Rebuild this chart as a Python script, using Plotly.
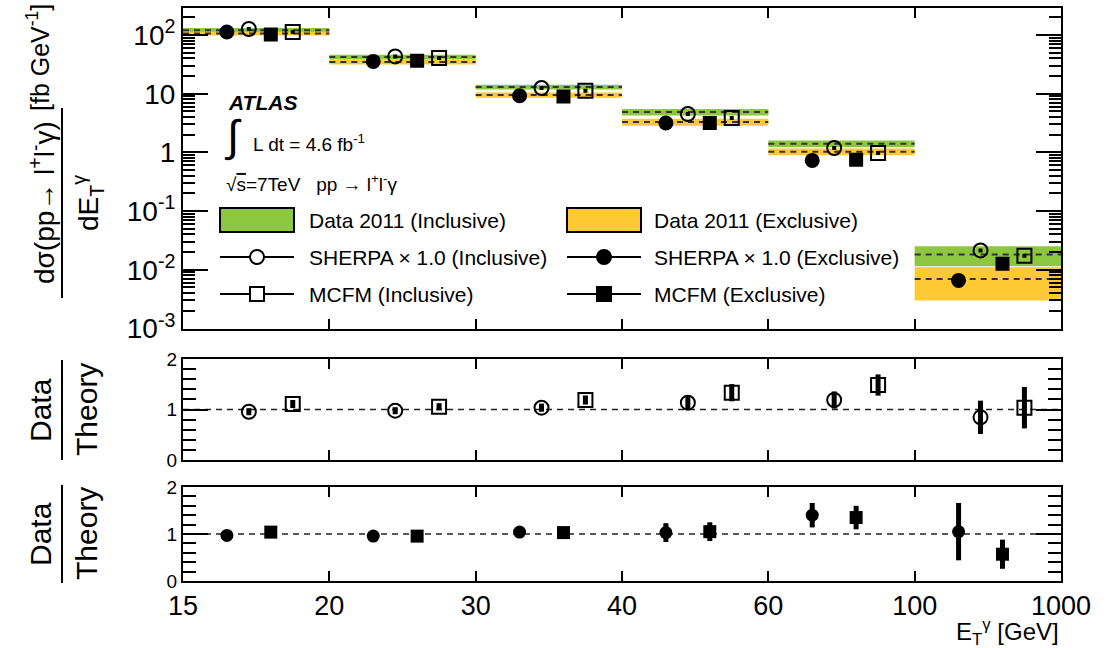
import plotly.graph_objects as go

# ---------------- data ----------------
edge_labels = ["15", "20", "30", "40", "60", "100", "1000"]
bin_index = [0, 1, 2, 3, 4, 5]

data_inc = [120, 42.2, 13.0, 4.87, 1.41, 0.0183]
data_inc_err = [11.5, 4.0, 1.2, 0.6, 0.19, 0.0068]
data_exc = [106, 34.7, 9.5, 3.30, 1.03, 0.0070]
data_exc_err = [8, 3.3, 1.0, 0.45, 0.14, 0.0040]

sherpa_inc = [126.5, 43.2, 12.5, 4.51, 1.19, 0.0214]
sherpa_exc = [112.5, 35.5, 9.25, 3.17, 0.73, 0.0066]
mcfm_inc = [112.5, 40.5, 11.2, 3.85, 0.977, 0.0174]
mcfm_exc = [102.4, 36.5, 9.0, 3.17, 0.75, 0.0127]

ratio_inc_sherpa = [0.956, 0.976, 1.036, 1.135, 1.188, 0.845]
ratio_inc_sherpa_err = [0.07, 0.07, 0.08, 0.145, 0.17, 0.33]
ratio_inc_mcfm = [1.109, 1.055, 1.188, 1.333, 1.485, 1.036]
ratio_inc_mcfm_err = [0.08, 0.07, 0.09, 0.17, 0.21, 0.41]
ratio_exc_sherpa = [0.969, 0.955, 1.04, 1.03, 1.40, 1.05]
ratio_exc_sherpa_err = [0.06, 0.06, 0.07, 0.2, 0.26, 0.61]
ratio_exc_mcfm = [1.04, 0.955, 1.03, 1.05, 1.35, 0.57]
ratio_exc_mcfm_err = [0.06, 0.06, 0.07, 0.2, 0.25, 0.31]

# ---------------- style ----------------
GREEN = "#8DC63F"
YELLOW = "#FFC933"
FONT = "Liberation Sans, Arial, Helvetica, sans-serif"
OFF_SC, OFF_OC, OFF_FS, OFF_OS = 0.30, 0.45, 0.60, 0.75

# pixel geometry of the plotting region
L, R, T, B = 183, 1061, 8, 581
W, H = R - L, B - T


def px(x):
    return (x - L) / W


def py(y):
    return (B - y) / H


def pos(off):
    return [i + off for i in bin_index]


def band(vals, errs):
    xs, ys = [], []
    for i, v, e in zip(bin_index, vals, errs):
        xs += [i, i + 1, i + 1, i, i, None]
        ys += [v - e, v - e, v + e, v + e, v - e, None]
    return xs, ys


def steps(vals):
    xs, ys = [], []
    for i, v in zip(bin_index, vals):
        xs += [i, i + 1, None]
        ys += [v, v, None]
    return xs, ys


fig = go.Figure()

# bands
gx, gy = band(data_inc, data_inc_err)
fig.add_trace(go.Scatter(x=gx, y=gy, fill="toself", fillcolor=GREEN, mode="none",
                         xaxis="x", yaxis="y", hoverinfo="skip"))
yx, yy = band(data_exc, data_exc_err)
fig.add_trace(go.Scatter(x=yx, y=yy, fill="toself", fillcolor=YELLOW, mode="none",
                         xaxis="x", yaxis="y", hoverinfo="skip"))
# dashed central values
for vals in (data_inc, data_exc):
    sx, sy = steps(vals)
    fig.add_trace(go.Scatter(x=sx, y=sy, mode="lines", xaxis="x", yaxis="y",
                             line=dict(color="#333333", width=2, dash="6px,5px"),
                             hoverinfo="skip"))

# theory markers (top)
fig.add_trace(go.Scatter(x=pos(OFF_SC), y=sherpa_exc, mode="markers", xaxis="x", yaxis="y",
                         marker=dict(symbol="circle", size=15, color="black")))
fig.add_trace(go.Scatter(x=pos(OFF_OC), y=sherpa_inc, mode="markers", xaxis="x", yaxis="y",
                         marker=dict(symbol="circle-open", size=14, color="black",
                                     line=dict(width=2))))
fig.add_trace(go.Scatter(x=pos(OFF_FS), y=mcfm_exc, mode="markers", xaxis="x", yaxis="y",
                         marker=dict(symbol="square", size=14, color="black")))
fig.add_trace(go.Scatter(x=pos(OFF_OS), y=mcfm_inc, mode="markers", xaxis="x", yaxis="y",
                         marker=dict(symbol="square-open", size=14, color="black",
                                     line=dict(width=2))))
# small central dots inside open markers
fig.add_trace(go.Scatter(x=pos(OFF_OC) + pos(OFF_OS), y=sherpa_inc + mcfm_inc, mode="markers",
                         xaxis="x", yaxis="y",
                         marker=dict(symbol="square", size=4, color="black")))

# ratio inclusive
fig.add_trace(go.Scatter(x=pos(OFF_OC), y=ratio_inc_sherpa, mode="markers", xaxis="x2", yaxis="y2",
                         error_y=dict(type="data", array=ratio_inc_sherpa_err, width=0,
                                      thickness=5, color="black"),
                         marker=dict(symbol="circle-open", size=14, color="black",
                                     line=dict(width=2))))
fig.add_trace(go.Scatter(x=pos(OFF_OS), y=ratio_inc_mcfm, mode="markers", xaxis="x2", yaxis="y2",
                         error_y=dict(type="data", array=ratio_inc_mcfm_err, width=0,
                                      thickness=5, color="black"),
                         marker=dict(symbol="square-open", size=14, color="black",
                                     line=dict(width=2))))
# ratio exclusive
fig.add_trace(go.Scatter(x=pos(OFF_SC), y=ratio_exc_sherpa, mode="markers", xaxis="x3", yaxis="y3",
                         error_y=dict(type="data", array=ratio_exc_sherpa_err, width=0,
                                      thickness=5, color="black"),
                         marker=dict(symbol="circle", size=13, color="black")))
fig.add_trace(go.Scatter(x=pos(OFF_FS), y=ratio_exc_mcfm, mode="markers", xaxis="x3", yaxis="y3",
                         error_y=dict(type="data", array=ratio_exc_mcfm_err, width=0,
                                      thickness=5, color="black"),
                         marker=dict(symbol="square", size=13, color="black")))

# ---------------- axes ----------------
xcommon = dict(range=[0, 6], tickmode="array", tickvals=list(range(7)), ticktext=edge_labels,
               ticks="inside", ticklen=10, tickwidth=2, tickcolor="black",
               showline=True, linecolor="black", linewidth=2, mirror="ticks",
               showgrid=False, zeroline=False, fixedrange=True, automargin=False)

yratio = dict(range=[0, 2], tickmode="array", tickvals=[0, 1, 2], ticktext=["0", "1", "2"],
              ticks="inside", ticklen=25, tickwidth=2, tickcolor="black",
              minor=dict(dtick=0.2, ticks="inside", ticklen=13, tickwidth=2,
                         tickcolor="black", showgrid=False),
              showline=True, linecolor="black", linewidth=2, mirror="ticks",
              showgrid=False, zeroline=False, tickfont=dict(size=19), automargin=False)

fig.update_layout(
    width=1107, height=648,
    margin=dict(l=L, r=1107 - R, t=T, b=648 - B, autoexpand=False),
    paper_bgcolor="white", plot_bgcolor="white",
    font=dict(family=FONT, color="black", size=20),
    showlegend=False,
    xaxis=dict(xcommon, anchor="y", domain=[0, 1], showticklabels=False),
    xaxis2=dict(xcommon, anchor="y2", domain=[0, 1], showticklabels=False),
    xaxis3=dict(xcommon, anchor="y3", domain=[0, 1], showticklabels=True,
                tickfont=dict(size=27)),
    yaxis=dict(type="log", range=[-3, 2.46], anchor="x", domain=[py(328.5), 1],
               tickmode="array", tickvals=[0.001, 0.01, 0.1, 1, 10, 100],
               ticktext=["10<sup>-3</sup>", "10<sup>-2</sup>", "10<sup>-1</sup>", "1", "10",
                         "10<sup>2</sup>"],
               ticks="inside", ticklen=25, tickwidth=2, tickcolor="black",
               minor=dict(dtick="D1", ticks="inside", ticklen=12, tickwidth=2,
                          tickcolor="black", showgrid=False),
               showline=True, linecolor="black", linewidth=2, mirror="ticks",
               showgrid=False, zeroline=False, tickfont=dict(size=28), automargin=False),
    yaxis2=dict(yratio, anchor="x2", domain=[py(460), py(359)]),
    yaxis3=dict(yratio, anchor="x3", domain=[0, py(487)]),
)

shapes = []
annotations = []

# reference lines at 1
for ax in ("2", "3"):
    shapes.append(dict(type="line", xref="x%s domain" % ax, x0=0, x1=1, yref="y" + ax,
                       y0=1, y1=1, line=dict(color="#222222", width=1.5, dash="6px,5px"),
                       layer="below"))

# ---------------- legend (drawn manually) ----------------
def add_text(x, y, text, size=21, xanchor="left", yanchor="middle", **kw):
    annotations.append(dict(xref="paper", yref="paper", x=px(x), y=py(y), text=text,
                            showarrow=False, xanchor=xanchor, yanchor=yanchor,
                            font=dict(size=size, family=FONT, color="black"), **kw))


def rect(x0, y0, x1, y1, fill):
    shapes.append(dict(type="rect", xref="paper", yref="paper", x0=px(x0), x1=px(x1),
                       y0=py(y1), y1=py(y0), fillcolor=fill,
                       line=dict(color="black", width=2)))


def hline(x0, x1, y):
    shapes.append(dict(type="line", xref="paper", yref="paper", x0=px(x0), x1=px(x1),
                       y0=py(y), y1=py(y), line=dict(color="black", width=2)))


def circ(cx, cy, r, filled):
    shapes.append(dict(type="circle", xref="paper", yref="paper", x0=px(cx - r), x1=px(cx + r),
                       y0=py(cy + r), y1=py(cy - r),
                       fillcolor="black" if filled else "white",
                       line=dict(color="black", width=2)))


def sq(cx, cy, r, filled):
    shapes.append(dict(type="rect", xref="paper", yref="paper", x0=px(cx - r), x1=px(cx + r),
                       y0=py(cy + r), y1=py(cy - r),
                       fillcolor="black" if filled else "white",
                       line=dict(color="black", width=2)))


rect(220, 208, 294, 232, GREEN)
add_text(307, 220, "Data 2011 (Inclusive)")
rect(567, 208, 641, 232, YELLOW)
add_text(652, 220, "Data 2011 (Exclusive)")

hline(220, 294, 257)
circ(257, 257, 7, False)
add_text(307, 257, "SHERPA × 1.0 (Inclusive)")
hline(567, 641, 257)
circ(604, 257, 7, True)
add_text(652, 257, "SHERPA × 1.0 (Exclusive)")

hline(220, 294, 294)
sq(257, 294, 7, False)
add_text(307, 294, "MCFM (Inclusive)")
hline(567, 641, 294)
sq(604, 294, 7, True)
add_text(652, 294, "MCFM (Exclusive)")

# ATLAS label block
add_text(226, 102, "<b><i>ATLAS</i></b>", size=21)
add_text(222, 136, "∫", size=44)
add_text(251, 143, "L dt = 4.6 fb<sup>-1</sup>", size=19)
add_text(224, 183, "√<span style='text-decoration:overline'>s</span>=7TeV   pp → l<sup>+</sup>l<sup>-</sup>γ",
         size=19)

# axis titles
add_text(1061, 632, "E<sub>T</sub><sup>γ</sup> [GeV]", size=24, xanchor="right")

# top y title (fraction)
add_text(42, 203, "dσ(pp→ l<sup>+</sup>l<sup>-</sup>γ)", size=28, xanchor="center", textangle=-90)
shapes.append(dict(type="line", xref="paper", yref="paper", x0=px(62), x1=px(62),
                   y0=py(298), y1=py(108), line=dict(color="black", width=2)))
add_text(88, 203, "dE<sub>T</sub><sup>γ</sup>", size=28, xanchor="center", textangle=-90)
add_text(38, 58, "[fb GeV<sup>-1</sup>]", size=25, xanchor="center", textangle=-90)

# ratio y titles
for yc, y0, y1 in ((410, 360, 460), (534, 485, 583)):
    add_text(40, yc, "Data", size=30, xanchor="center", textangle=-90)
    add_text(86, yc, "Theory", size=30, xanchor="center", textangle=-90)
    shapes.append(dict(type="line", xref="paper", yref="paper", x0=px(62), x1=px(62),
                       y0=py(y1), y1=py(y0), line=dict(color="black", width=2)))

fig.update_layout(shapes=shapes, annotations=annotations)

fig.write_html("out.html")
